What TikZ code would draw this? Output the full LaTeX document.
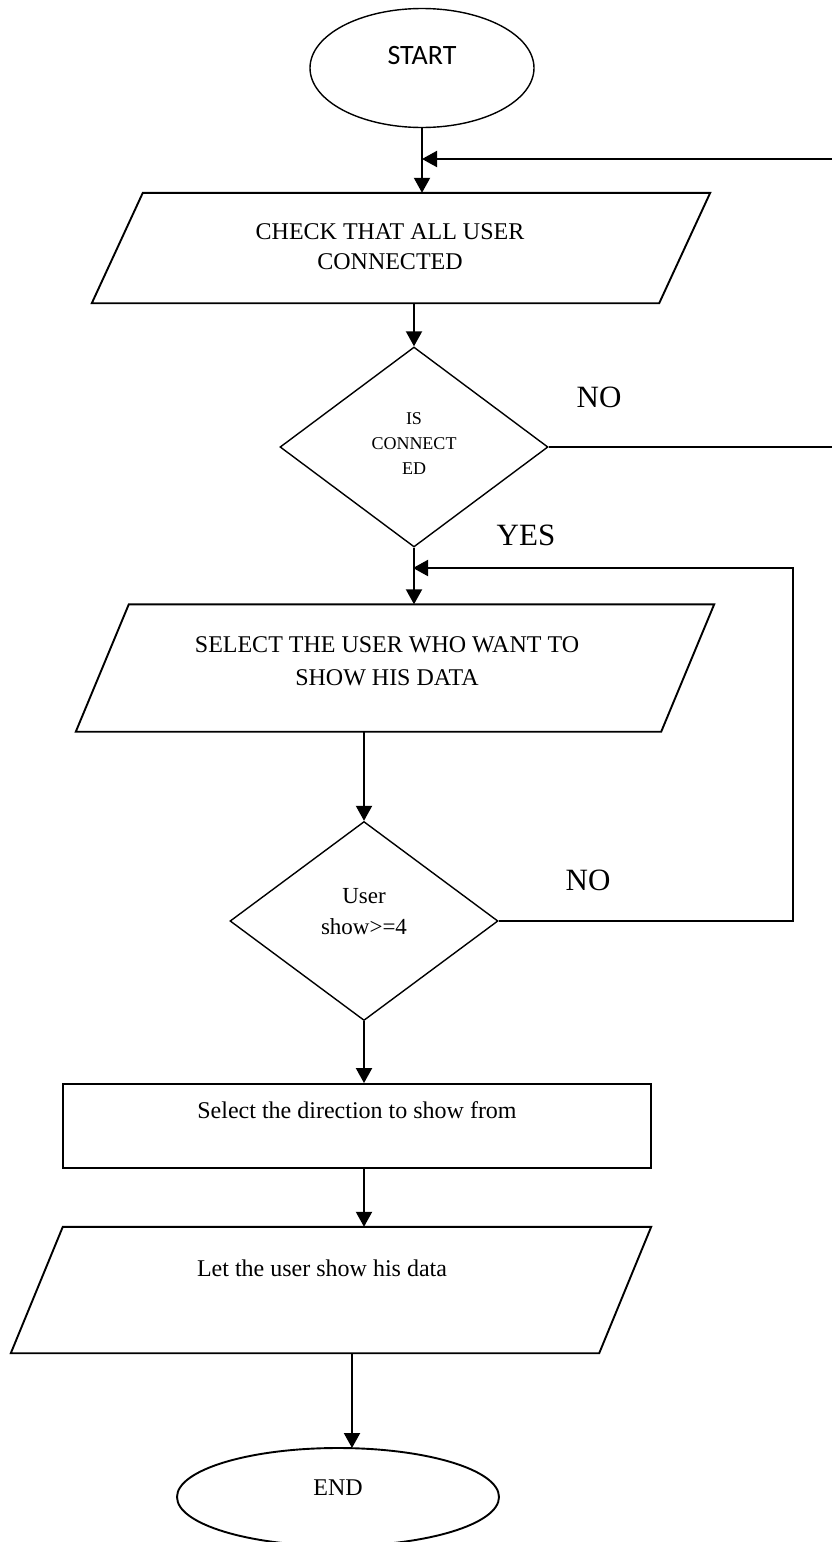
\documentclass[tikz,border=0pt]{standalone}
\usepackage{fontspec}
\setmainfont{Liberation Serif}
\newfontfamily\calibrifont{Carlito}
\usetikzlibrary{positioning,calc,shapes.geometric,arrows.meta}

\tikzset{
  shapeline/.style={draw, line width=1.4pt, inner sep=0pt},
  boxline/.style={draw, line width=1.9pt, inner sep=0pt},
  terminal/.style={shapeline, ellipse},
  iobox/.style={rectangle, inner sep=0pt},
  decision/.style={shapeline, diamond},
  process/.style={boxline, rectangle},
  flow/.style={line width=2pt, -{Triangle[length=15pt,width=16pt]}},
  boxtext/.style={inner sep=0pt, align=center, font=\fontsize{24}{30}\selectfont},
  answer/.style={inner sep=0pt, font=\fontsize{31}{37}\selectfont},
}

\begin{document}
\begin{tikzpicture}[x=1pt,y=-1pt]
  \useasboundingbox (0,0) rectangle (832,1542);
  % shapes
  \node[terminal, minimum width=224pt, minimum height=119pt] (start) at (422,68) {};
  \node[iobox, minimum width=618pt, minimum height=110pt] (check) at (401,248) {};
  \node[decision, minimum width=268pt, minimum height=200pt] (isconn) at (414,447) {};
  \node[iobox, minimum width=638pt, minimum height=127pt] (select) at (395,668) {};
  \node[decision, minimum width=268pt, minimum height=199pt] (usershow) at (364,921) {};
  \node[process, minimum width=588pt, minimum height=84pt] (direction) at (357,1126) {};
  \node[iobox, minimum width=640pt, minimum height=126pt] (letshow) at (331,1290) {};
  \node[terminal, line width=1.9pt, minimum width=322pt, minimum height=98pt] (stop) at (338,1497) {};
  % slanted sides of the input boxes
  \foreach \n/\o in {check/51, select/53, letshow/52}
    \draw[boxline] ([xshift=\o pt]\n.north west) -- (\n.north east)
      -- ([xshift=-\o pt]\n.south east) -- (\n.south west) -- cycle;

  % texts
  \node[inner sep=0pt, font=\calibrifont\fontsize{28}{34}\selectfont] (starttext) at (422,56) {START};
  \node[boxtext] (checktext) at (390,247) {CHECK THAT ALL USER\\CONNECTED};
  \node[inner sep=0pt, align=center, font=\fontsize{18}{25}\selectfont] (isconntext) at (414,444) {IS\\CONNECT\\ED};
  \node[answer] (no1) at (599,397) {NO};
  \node[answer] (yes) at (526,535) {YES};
  \node[boxtext, font=\fontsize{24}{33}\selectfont] (selecttext) at (387,661) {SELECT THE USER WHO WANT TO\\SHOW HIS DATA};
  \node[inner sep=0pt, align=center, font=\fontsize{23}{31}\selectfont] (usershowtext) at (364,912) {User\\show>=4};
  \node[answer] (no2) at (588,880) {NO};
  \node[boxtext] (directiontext) at (357,1110) {Select the direction to show from};
  \node[boxtext] (letshowtext) at (322,1268) {Let the user show his data};
  \node[boxtext] (endtext) at (338,1488) {END};

  % connectors
  \coordinate (topjoin) at (422,159);
  \coordinate (selectjoin) at (413,568);
  \coordinate (endin) at (352,1448);
  \draw[flow] (start.south) -- (start.south |- check.north);
  \draw[flow] (isconn.north |- check.south) -- (isconn.north);
  \draw[flow] (isconn.east) -- ++(292,0) |- (topjoin);
  \draw[flow] (isconn.south) -- (isconn.south |- select.north);
  \draw[flow] (usershow.north |- select.south) -- (usershow.north);
  \draw[flow] (usershow.east) -- ++(294,0) |- (selectjoin);
  \draw[flow] (usershow.south) -- (usershow.south |- direction.north);
  \draw[flow] (direction.south -| usershow.south) -- (letshow.north -| usershow.south);
  \draw[flow] (endin |- letshow.south) -- (endin);
\end{tikzpicture}
\end{document}
